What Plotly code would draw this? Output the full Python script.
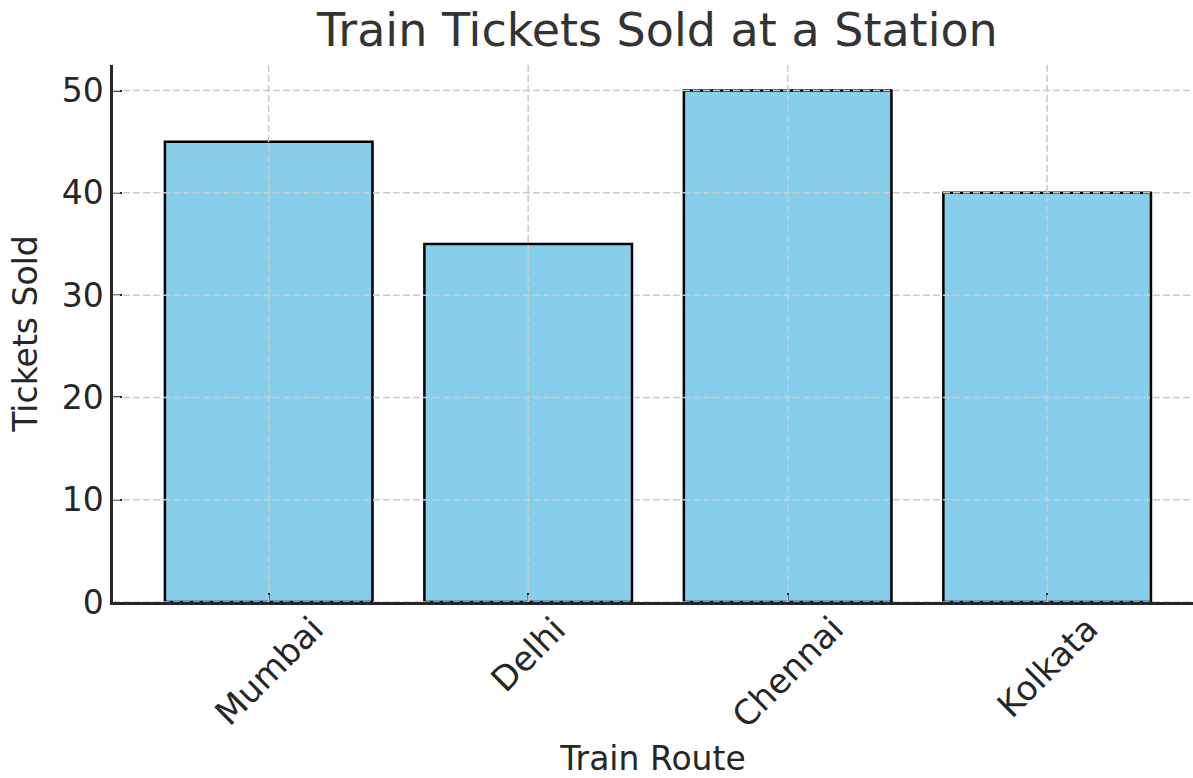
import plotly.graph_objects as go

routes = ["Mumbai", "Delhi", "Chennai", "Kolkata"]
tickets = [45, 35, 50, 40]
y_ticks = [0, 10, 20, 30, 40, 50]

FONT = "DejaVu Sans"
GRID = "#cbcbcb"
AXC = "#262626"

fig = go.Figure()
fig.add_trace(go.Bar(
    x=routes, y=tickets, width=0.8,
    marker=dict(color="#87CEEB", line=dict(color="black", width=2.5)),
    hoverinfo="x+y",
))

shapes = []
for v in y_ticks:
    shapes.append(dict(type="line", xref="paper", x0=0, x1=1, yref="y", y0=v, y1=v,
                       line=dict(color=GRID, width=1.5, dash="7px,3px"), layer="above"))
for r in routes:
    shapes.append(dict(type="line", xref="x", x0=r, x1=r, yref="paper", y0=0, y1=1,
                       line=dict(color=GRID, width=1.5, dash="7px,3px"), layer="above"))

annotations = []
for r in routes:
    annotations.append(dict(x=r, xref="x", y=-0.007, yref="paper", text=r, showarrow=False,
                            textangle=-45, xanchor="center", yanchor="top",
                            font=dict(family=FONT, size=34, color=AXC)))

fig.update_layout(
    width=1193, height=778,
    margin=dict(l=113, r=0, t=65, b=176),
    paper_bgcolor="white", plot_bgcolor="white",
    showlegend=False,
    title=dict(text="Train Tickets Sold at a Station", x=0.551, xanchor="center",
               y=1 - 30 / 778, yanchor="middle", yref="container",
               font=dict(family=FONT, size=46, color="#333333")),
    shapes=shapes, annotations=annotations,
    xaxis=dict(range=[-0.6, 3.562], showgrid=False, showline=True, linecolor=AXC, linewidth=2.5,
               ticks="inside", ticklen=9, tickwidth=2, tickcolor=AXC, showticklabels=False,
               layer="above traces",
               title=dict(text="Train Route", standoff=146,
                          font=dict(family=FONT, size=33, color=AXC))),
    yaxis=dict(range=[0, 52.5], tickvals=y_ticks, showgrid=False, zeroline=False,
               showline=True, linecolor=AXC, linewidth=2.5,
               ticks="inside", ticklen=9, tickwidth=2, tickcolor=AXC,
               tickfont=dict(family=FONT, size=33, color=AXC), layer="above traces",
               title=dict(text="Tickets Sold", font=dict(family=FONT, size=33, color=AXC))),
)

fig.write_html("out.html", config={"displayModeBar": False},
               post_script="document.body.style.margin='0';document.body.style.overflow='hidden';")
